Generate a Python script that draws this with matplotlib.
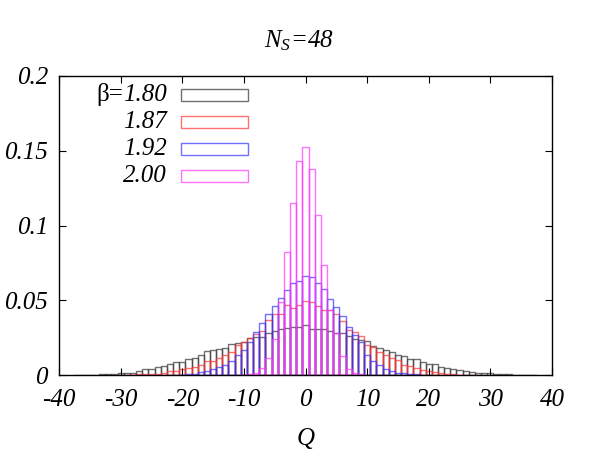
import numpy as np
import matplotlib
matplotlib.use("Agg")
import matplotlib.pyplot as plt
from matplotlib.patches import Rectangle

plt.rcParams['font.family'] = 'Liberation Serif'
plt.rcParams['mathtext.fontset'] = 'custom'
plt.rcParams['mathtext.it'] = 'Liberation Serif:italic'
plt.rcParams['mathtext.rm'] = 'Liberation Serif'
plt.rcParams['axes.unicode_minus'] = False

# topological charge histograms, bin width 1
q = np.arange(-37, 38)

p180 = [0.0001, 0.0002, 0.0003, 0.0004, 0.0008, 0.0007, 0.0011, 0.0012, 0.0016, 0.0018,
        0.0027, 0.0042, 0.0042, 0.0055, 0.0060, 0.0078, 0.0087, 0.0091, 0.0109, 0.0114,
        0.0132, 0.0161, 0.0167, 0.0176, 0.0185, 0.0207, 0.0218, 0.0220, 0.0247, 0.0256,
        0.0255, 0.0285, 0.0294, 0.0306, 0.0317, 0.0323, 0.0323, 0.0334, 0.0306, 0.0308,
        0.0306, 0.0294, 0.0285, 0.0279, 0.0260, 0.0245, 0.0234, 0.0228, 0.0194, 0.0185,
        0.0167, 0.0158, 0.0134, 0.0129, 0.0110, 0.0105, 0.0091, 0.0078, 0.0074, 0.0056,
        0.0051, 0.0040, 0.0033, 0.0029, 0.0020, 0.0018, 0.0016, 0.0013, 0.0009, 0.0007,
        0.0005, 0.0004, 0.0002, 0.0002, 0.0001]

p187 = [0, 0, 0, 0, 0, 0, 0, 0.0002, 0.0003, 0.0004,
        0.0007, 0.0009, 0.0009, 0.0011, 0.0018, 0.0027, 0.0027, 0.0040, 0.0047, 0.0055,
        0.0069, 0.0096, 0.0098, 0.0118, 0.0134, 0.0156, 0.0200, 0.0220, 0.0247, 0.0275,
        0.0295, 0.0368, 0.0410, 0.0408, 0.0466, 0.0446, 0.0468, 0.0495, 0.0488, 0.0462,
        0.0433, 0.0433, 0.0412, 0.0361, 0.0301, 0.0288, 0.0265, 0.0200, 0.0190, 0.0156,
        0.0134, 0.0118, 0.0100, 0.0065, 0.0060, 0.0047, 0.0033, 0.0027, 0.0020, 0.0013,
        0.0011, 0.0007, 0.0004, 0.0003, 0.0002, 0, 0, 0, 0, 0,
        0, 0, 0, 0, 0]

p192 = [0, 0, 0, 0, 0, 0, 0, 0, 0, 0,
        0, 0, 0, 0, 0, 0.0001, 0.0002, 0.0002, 0.0009, 0.0009,
        0.0020, 0.0025, 0.0042, 0.0058, 0.0067, 0.0098, 0.0138, 0.0170, 0.0223, 0.0290,
        0.0350, 0.0412, 0.0464, 0.0513, 0.0569, 0.0618, 0.0627, 0.0662, 0.0653, 0.0613,
        0.0573, 0.0506, 0.0457, 0.0395, 0.0323, 0.0270, 0.0220, 0.0135, 0.0096, 0.0067,
        0.0040, 0.0027, 0.0018, 0.0013, 0.0009, 0.0007, 0.0004, 0.0002, 0, 0,
        0, 0, 0, 0, 0, 0, 0, 0, 0, 0,
        0, 0, 0, 0, 0]

p200 = [0, 0, 0, 0, 0, 0, 0, 0, 0, 0,
        0, 0, 0, 0, 0, 0, 0, 0, 0, 0,
        0, 0, 0, 0, 0, 0, 0, 0.0001, 0.0007, 0.0016,
        0.0049, 0.0116, 0.0245, 0.0490, 0.0821, 0.1148, 0.1431, 0.1523, 0.1376, 0.1068,
        0.0736, 0.0435, 0.0280, 0.0127, 0.0040, 0.0015, 0.0005, 0, 0, 0,
        0, 0, 0, 0, 0, 0, 0, 0, 0, 0,
        0, 0, 0, 0, 0, 0, 0, 0, 0, 0,
        0, 0, 0, 0, 0]

series = [p180, p187, p192, p200]
betas = ['1.80', '1.87', '1.92', '2.00']
colors = [(0.25, 0.25, 0.25, 0.75), (1.0, 0.2, 0.2, 0.7), (0.2, 0.2, 1.0, 0.7), (1.0, 0.2, 1.0, 0.7)]

fig = plt.figure(figsize=(5.98, 4.57), dpi=100)
ax = fig.add_axes([0.0987, 0.179, 0.8244, 0.655])

for vals, c in zip(series, colors):
	vals = np.array(vals)
	m = vals > 0
	ax.bar(q[m], vals[m], width=1.0, fill=False, edgecolor=c, linewidth=1.0)

ax.set_xlim(-40, 40)
ax.set_ylim(0, 0.2)
xt = [-40, -30, -20, -10, 0, 10, 20, 30, 40]
yt = [0, 0.05, 0.1, 0.15, 0.2]
ax.set_xticks(xt)
ax.set_xticklabels([str(v) for v in xt])
ax.set_yticks(yt)
ax.set_yticklabels(['0', '0.05', '0.1', '0.15', '0.2'])
ax.tick_params(direction='in', length=5, width=0.8, top=True, right=True,
	labelsize=18, pad=8)
ax.tick_params(axis='x', pad=10)
for lab in ax.get_xticklabels() + ax.get_yticklabels():
	lab.set_fontstyle('italic')
for s in ax.spines.values():
	s.set_linewidth(1.0)

ax.set_xlabel('Q', fontsize=18, fontstyle='italic', labelpad=12)
fig.text(0.5, 0.885, r'$N_S$=48', fontsize=18, fontstyle='italic', ha='center', va='bottom')

# key, gnuplot style: text right-justified, sample box on the right
for i, (b, c) in enumerate(zip(betas, colors)):
	y = 0.935 - i * 0.09
	t = ax.text(0.219, y, b, transform=ax.transAxes, fontsize=18, fontstyle='italic',
		ha='right', va='center')
	ax.add_patch(Rectangle((0.2475, y - 0.02), 0.136, 0.04, transform=ax.transAxes,
		fill=False, edgecolor=c, linewidth=1.0))
	if i == 0:
		ax.annotate('β=', xy=(0, 0), xycoords=t, fontsize=18, ha='right', va='bottom')

fig.savefig('out.png', dpi=100)
